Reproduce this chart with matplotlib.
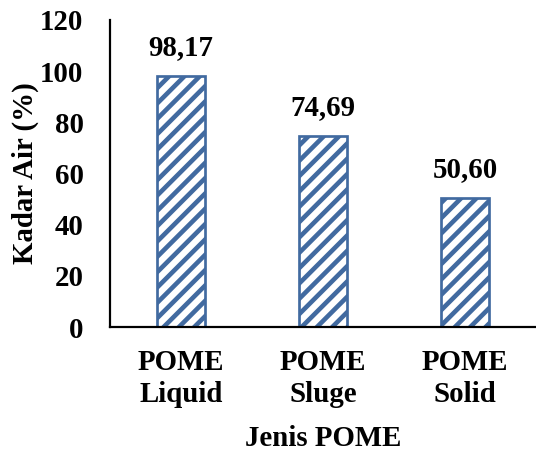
import matplotlib
matplotlib.use("Agg")
import matplotlib.pyplot as plt

categories = ["POME\nLiquid", "POME\nSluge", "POME\nSolid"]
values = [98.17, 74.69, 50.60]
value_labels = ["98,17", "74,69", "50,60"]
yticks = [0, 20, 40, 60, 80, 100, 120]

DPI = 92
def pt(px):
    return px * 72.0 / DPI

FS = pt(28.9)
plt.rcParams['font.family'] = ['Liberation Serif', 'DejaVu Serif']
plt.rcParams['font.weight'] = 'bold'
plt.rcParams['hatch.linewidth'] = pt(4.6)
plt.rcParams['hatch.color'] = '#416AA0'

fig = plt.figure(figsize=(536 / DPI, 454 / DPI), dpi=DPI)
ax = fig.add_axes([110 / 536, (454 - 327) / 454, 426 / 536, 307 / 454])

blue = '#416AA0'
x = list(range(len(categories)))
bars = ax.bar(x, values, width=0.34, color='white', edgecolor=blue,
              linewidth=pt(2.7), hatch='//')

for xi, v, lab in zip(x, values, value_labels):
    ax.annotate(lab, (xi, v), xytext=(0, pt(15)), textcoords='offset points',
                ha='center', va='bottom', fontsize=FS, fontweight='bold')

ax.set_xlim(-0.5, 2.5)
ax.set_ylim(0, 120)
ax.set_yticks(yticks)
ax.set_yticklabels([str(t) for t in yticks], fontsize=FS, fontweight='bold')
ax.set_xticks(x)
ax.set_xticklabels(categories, fontsize=FS, fontweight='bold', linespacing=1.22)
ax.tick_params(axis='y', length=0, pad=pt(26.5))
ax.tick_params(axis='x', length=0, pad=pt(22))

for s in ['top', 'right']:
    ax.spines[s].set_visible(False)
for s in ['left', 'bottom']:
    ax.spines[s].set_linewidth(pt(2.2))
    ax.spines[s].set_color('black')

ax.set_ylabel("Kadar Air (%)", fontsize=FS, fontweight='bold', labelpad=pt(1))
ax.set_xlabel("Jenis POME", fontsize=FS, fontweight='bold', labelpad=pt(17))

fig.savefig("out.png", dpi=DPI)
